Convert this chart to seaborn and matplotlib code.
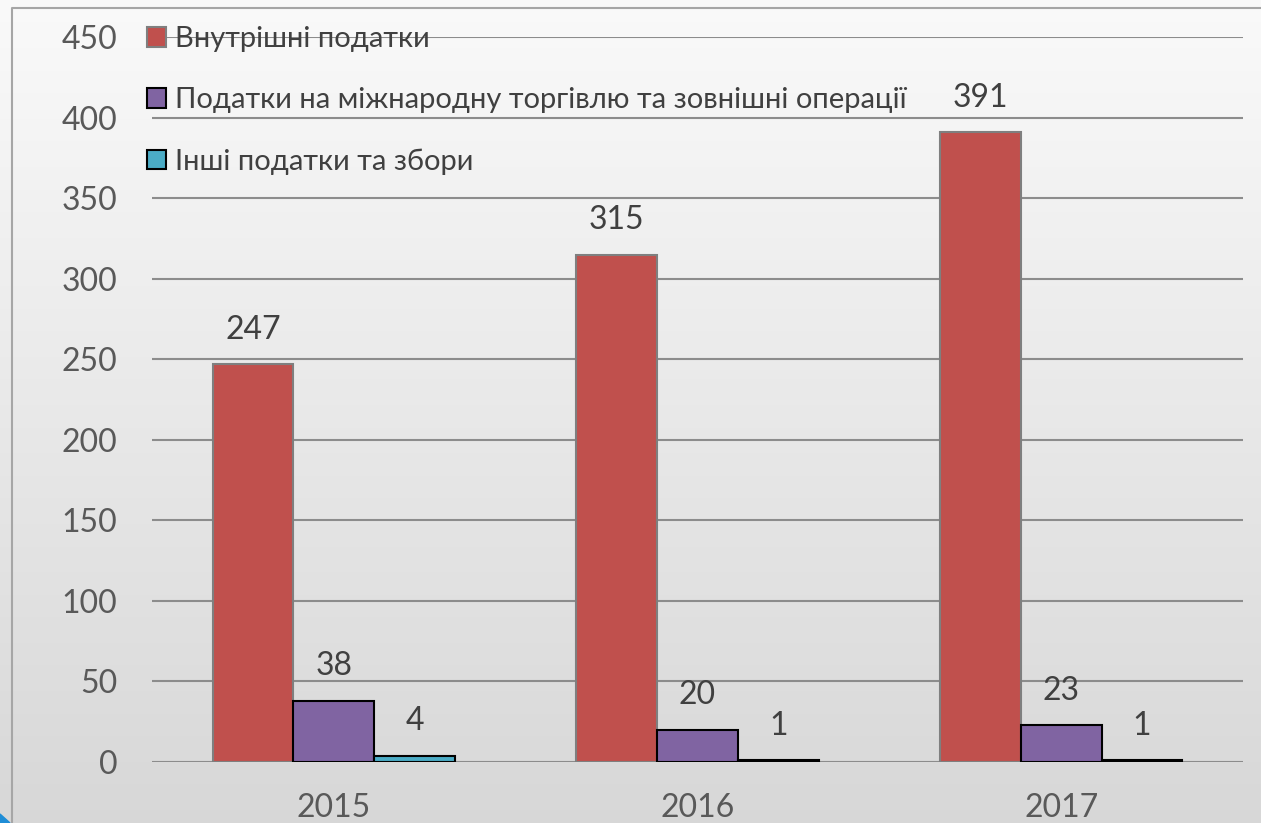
import matplotlib
matplotlib.use("Agg")
import matplotlib.pyplot as plt
import numpy as np
import pandas as pd
import seaborn as sns

# data
years = ["2015", "2016", "2017"]
series = ["Внутрішні податки",
          "Податки на міжнародну торгівлю та зовнішні операції",
          "Інші податки та збори"]
domestic = [247, 315, 391]
trade = [38, 20, 23]
other = [4, 1, 1]

colors = ["#C0504D", "#8064A2", "#4BACC6"]
edges = ["#7f7f7f", "black", "black"]

df = pd.DataFrame({
    "year": years * 3,
    "series": [series[0]] * 3 + [series[1]] * 3 + [series[2]] * 3,
    "value": domestic + trade + other,
})

sns.set_style("white")
plt.rcParams["font.family"] = ["Lato", "DejaVu Sans"]

fig = plt.figure(figsize=(12.61, 8.23), dpi=100)

# background gradient
bg = fig.add_axes([0, 0, 1, 1], zorder=-10)
grad = np.linspace(0.98, 0.845, 256).reshape(-1, 1)
grad = np.repeat(grad, 2, axis=1)
bg.imshow(np.dstack([grad, grad, grad]), aspect="auto", extent=[0, 1, 0, 1])
bg.plot([12 / 1261, 12 / 1261, 1], [0, 1 - 8 / 823, 1 - 8 / 823],
        color="#a6a6a6", lw=1.5)
bg.fill([0, 0, 10 / 1261], [0, 9 / 823, 0], color="#1f8dd6")
bg.set_xlim(0, 1)
bg.set_ylim(0, 1)
bg.axis("off")

ax = fig.add_axes([152 / 1261, 1 - 762 / 823, 1091 / 1261, 725 / 823])
ax.patch.set_alpha(0)

sns.barplot(data=df, x="year", y="value", hue="series", hue_order=series,
            palette=colors, saturation=1, width=0.667, gap=0, ax=ax,
            legend=True)

for cont, ec in zip(ax.containers, edges):
    for p in cont:
        p.set_edgecolor(ec)
        p.set_linewidth(1.5)
        p.set_zorder(3)
    ax.bar_label(cont, fmt="%d", padding=14, fontsize=23, color="#404040")

ax.set_ylim(0, 450)
ax.set_xlim(-0.5, 2.5)
ax.set_yticks(range(0, 451, 50))
ax.yaxis.grid(True, color="#8c8c8c", lw=1.5)
ax.set_axisbelow(True)
for s in ax.spines.values():
    s.set_visible(False)
ax.set_xlabel("")
ax.set_ylabel("")
ax.tick_params(axis="both", length=0, labelsize=23, labelcolor="#595959")
ax.tick_params(axis="y", pad=25)
ax.tick_params(axis="x", pad=22)

handles, labels = ax.get_legend_handles_labels()
for h, ec in zip(handles, edges):
    h.set_edgecolor(ec)
    h.set_linewidth(1.5)
leg = ax.legend(handles, labels, loc="upper left", frameon=False,
                bbox_to_anchor=(-0.0046, 1.015), borderaxespad=0, borderpad=0,
                fontsize=21, labelcolor="#404040", handlelength=0.65,
                handleheight=0.65, handletextpad=0.3, labelspacing=1.2)

fig.savefig("out.png", dpi=100)
